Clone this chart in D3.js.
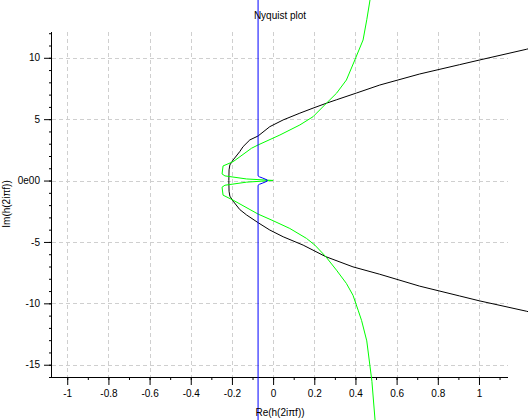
<!DOCTYPE html>
<html>
<head>
<meta charset="utf-8">
<script src="https://cdn.jsdelivr.net/npm/d3@7"></script>
<style>
  body { margin: 0; background: #fff; }
  svg { display: block; }
  text { font-family: "Liberation Sans", Arial, sans-serif; font-size: 10px; fill: #000; }
</style>
</head>
<body>
<div id="chart"></div>
<script>
// Nyquist curves as [Re, Im] pairs
const blackCurve = [
  [1.30, 11.0], [1.23, 10.69], [1.003, 9.82], [0.906, 9.44], [0.712, 8.68],
  [0.518, 7.78], [0.405, 7.13], [0.308, 6.58], [0.259, 6.3], [0.194, 5.9],
  [0.13, 5.49], [0.049, 4.94], [-0.016, 4.39], [-0.073, 3.63], [-0.113, 3.31],
  [-0.146, 2.76], [-0.162, 2.36], [-0.194, 1.68], [-0.210, 1.27], [-0.214, 0.87],
  [-0.215, 0],
  [-0.214, -0.87], [-0.210, -1.27], [-0.194, -1.68], [-0.162, -2.36], [-0.129, -2.8],
  [-0.073, -3.43], [-0.016, -4.03], [0.049, -4.58], [0.146, -5.26], [0.256, -6.2],
  [0.388, -7.03], [0.518, -7.63], [0.712, -8.6], [0.906, -9.4], [1.003, -9.8],
  [1.23, -10.64], [1.30, -10.95]
];

const greenCurve = [
  [0.51, 22], [0.471, 14.74], [0.455, 13.1], [0.437, 11.45], [0.397, 9.82],
  [0.356, 8.19], [0.308, 7.11], [0.259, 6.3], [0.194, 5.2], [0.13, 4.53],
  [0.033, 3.71], [-0.073, 2.9], [-0.105, 2.63], [-0.194, 1.54], [-0.243, 1.19],
  [-0.248, 0.54], [-0.234, 0.38], [-0.129, 0.13], [0.0, 0.01],
  [-0.129, -0.13], [-0.234, -0.38], [-0.248, -0.54], [-0.243, -1.19], [-0.194, -1.6],
  [-0.073, -2.73], [0.0, -3.27], [0.081, -3.9], [0.162, -4.71], [0.203, -5.26],
  [0.256, -6.2], [0.308, -7.3], [0.356, -8.38], [0.388, -9.34], [0.413, -10.56],
  [0.43, -11.41], [0.455, -13.06], [0.48, -16.36], [0.496, -19.66], [0.51, -22]
];

const blueCurve = [
  [-0.073, 25], [-0.073, 0.38], [-0.066, 0.3], [-0.05, 0.2], [-0.029, 0.05],
  [-0.029, -0.05], [-0.05, -0.2], [-0.066, -0.3], [-0.073, -0.38], [-0.073, -25]
];

const xTicks = [-1, -0.8, -0.6, -0.4, -0.2, 0, 0.2, 0.4, 0.6, 0.8, 1];
const xTickLabels = ['-1', '-0.8', '-0.6', '-0.4', '-0.2', '0', '0.2', '0.4', '0.6', '0.8', '1'];
const yTicks = [10, 5, 0, -5, -10, -15];
const yTickLabels = ['10', '5', '0e00', '-5', '-10', '-15'];

const width = 528, height = 420;
const plot = { left: 52, right: 508, top: 32, bottom: 377 };

const x = d3.scaleLinear().domain([-1.074, 1.141]).range([plot.left, plot.right]);
const y = d3.scaleLinear().domain([-16, 12.1]).range([plot.bottom, plot.top]);

const svg = d3.select('#chart')
  .append('svg')
  .attr('width', width)
  .attr('height', height);

// grid
const grid = svg.append('g').attr('class', 'grid')
  .attr('stroke', '#cfcfcf')
  .attr('stroke-dasharray', '4,3')
  .attr('shape-rendering', 'crispEdges');

grid.selectAll('line.v')
  .data(xTicks)
  .enter().append('line')
  .attr('class', 'v')
  .attr('x1', d => Math.round(x(d)) + 0.5)
  .attr('x2', d => Math.round(x(d)) + 0.5)
  .attr('y1', plot.top)
  .attr('y2', plot.bottom);

grid.selectAll('line.h')
  .data(yTicks)
  .enter().append('line')
  .attr('class', 'h')
  .attr('x1', plot.left)
  .attr('x2', plot.right)
  .attr('y1', d => Math.round(y(d)) + 0.5)
  .attr('y2', d => Math.round(y(d)) + 0.5);

// x axis: major ticks with labels, minor ticks every 0.1
const xMinor = d3.range(-10, 12).map(i => i / 10);
const xAxis = svg.append('g')
  .attr('transform', `translate(0, ${plot.bottom})`)
  .call(d3.axisBottom(x).tickValues(xMinor).tickSize(3).tickFormat(''));
xAxis.select('.domain').remove();
svg.append('g')
  .attr('transform', `translate(0, ${plot.bottom})`)
  .call(d3.axisBottom(x).tickValues(xTicks).tickSize(8).tickPadding(5)
    .tickFormat((d, i) => xTickLabels[i]))
  .call(g => g.select('.domain').attr('d', `M${plot.left},0.5H${plot.right}`));

// y axis: major ticks with labels, minor ticks every 1
const yMinor = d3.range(-16, 13);
const yAxis = svg.append('g')
  .attr('transform', `translate(${plot.left}, 0)`)
  .call(d3.axisLeft(y).tickValues(yMinor).tickSize(3).tickFormat(''));
yAxis.select('.domain').remove();
svg.append('g')
  .attr('transform', `translate(${plot.left}, 0)`)
  .call(d3.axisLeft(y).tickValues(yTicks).tickSize(8).tickPadding(4)
    .tickFormat((d, i) => yTickLabels[i]))
  .call(g => g.select('.domain').attr('d', `M-0.5,${plot.top}V${plot.bottom}`));

svg.selectAll('.tick text')
  .attr('font-family', '"Liberation Sans", Arial, sans-serif')
  .attr('font-size', 10);

// curves (no clipping, as in the original)
const line = d3.line().x(d => x(d[0])).y(d => y(d[1]));
const curves = [
  { data: blackCurve, color: '#000000' },
  { data: greenCurve, color: '#00ff00' },
  { data: blueCurve, color: '#0000ff' }
];
svg.append('g').selectAll('path')
  .data(curves)
  .enter().append('path')
  .attr('d', d => line(d.data))
  .attr('fill', 'none')
  .attr('stroke', d => d.color)
  .attr('stroke-width', 1);

// title and axis labels
svg.append('text')
  .attr('x', (plot.left + plot.right) / 2)
  .attr('y', 19)
  .attr('text-anchor', 'middle')
  .text('Nyquist plot');

svg.append('text')
  .attr('x', (plot.left + plot.right) / 2)
  .attr('y', 416)
  .attr('text-anchor', 'middle')
  .text('Re(h(2iπf))');

svg.append('text')
  .attr('transform', 'translate(10, 204) rotate(-90)')
  .attr('text-anchor', 'middle')
  .text('Im(h(2iπf))');
</script>
</body>
</html>
